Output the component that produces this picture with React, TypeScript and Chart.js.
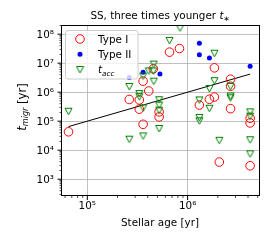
import React, { useEffect, useRef } from 'react';
import { Chart, registerables } from 'chart.js';

Chart.register(...registerables);

// ---- axis ticks ----
const xTickValues = [1e5, 1e6];
const xTickLabels = ['10⁵', '10⁶'];
const yTickValues = [1e3, 1e4, 1e5, 1e6, 1e7, 1e8];
const yTickLabels = ['10³', '10⁴', '10⁵', '10⁶', '10⁷', '10⁸'];
const xMin = 54670;
const xMax = 5.15e6;
const yMin = 285;
const yMax = 2.07e8;

// ---- Type I (red open circles) ----
const typeIAge = [
  6.5e4, 2.62e5, 3.3e5, 3.3e5, 3.6e5, 3.6e5, 4.1e5, 4.55e5, 5.2e5, 5.2e5, 6.6e5, 8.3e5,
  1.31e6, 1.65e6, 1.85e6, 1.85e6, 2.07e6, 2.68e6, 2.68e6, 2.68e6, 4.2e6, 4.2e6, 4.2e6,
];
const typeITime = [
  4.3e4, 5.6e5, 5.4e5, 2.6e5, 7.8e4, 2.4e6, 1.1e6, 6.4e6, 2.1e5, 1.4e5, 2.4e7, 3.2e7,
  3.6e5, 5.7e5, 6.8e5, 6.9e6, 3.9e3, 2.8e6, 1.6e6, 2.7e5, 1.27e5, 8.7e4, 2.9e3,
];

// ---- Type II (blue dots) ----
const typeIIAge = [2.62e5, 3.6e5, 5.3e5, 1.31e6, 1.31e6, 1.65e6, 4.2e6];
const typeIITime = [3.2e6, 4.9e6, 4.2e6, 4.9e7, 1.95e7, 1.5e7, 7.9e6];

// ---- t_acc (green down triangles) ----
const taccAge = [
  6.5e4, 2.62e5, 2.62e5, 3.3e5, 3.3e5, 3.6e5, 3.6e5, 3.6e5, 4.1e5, 4.55e5, 4.6e5, 4.6e5,
  5.2e5, 5.2e5, 5.2e5, 5.2e5, 6.6e5, 8.4e5, 1.31e6, 1.31e6, 1.31e6, 1.65e6, 1.65e6,
  1.85e6, 1.85e6, 2.07e6, 2.68e6, 2.68e6, 2.68e6, 4.2e6, 4.2e6, 4.2e6, 4.2e6,
];
const taccTime = [
  2.2e5, 1.57e6, 2.4e4, 9.0e5, 7.0e5, 3.6e6, 2.9e5, 3.1e4, 5.4e6, 5.4e6, 9.3e6, 2.4e6,
  5.5e5, 3.6e5, 2.4e5, 5.6e4, 6.1e7, 1.64e8, 5.4e5, 1.35e5, 1.03e5, 1.34e6, 2.8e5,
  2.2e7, 2.5e6, 2.2e4, 1.6e6, 7.4e5, 6.4e5, 2.1e5, 1.5e5, 2.3e4, 7.5e3,
];

// ---- fit line ----
const fitAge = [6.5e4, 4.2e6];
const fitTime = [6.5e4, 4.2e6];

const FAM = '"DejaVu Sans"';
const FS = 10.4;
const YLABEL_FS = 11.6;

const pts = (a: number[], b: number[]) => a.map((v, i) => ({ x: v, y: b[i] }));

function makeTriangle(): HTMLCanvasElement {
  const c = document.createElement('canvas');
  c.width = 9;
  c.height = 9;
  const g = c.getContext('2d')!;
  g.strokeStyle = '#008000';
  g.lineWidth = 1;
  g.beginPath();
  g.moveTo(1, 1.5);
  g.lineTo(8, 1.5);
  g.lineTo(4.5, 8);
  g.closePath();
  g.stroke();
  return c;
}

type Part = { text: string; font: string; dy?: number };

function richText(ctx: CanvasRenderingContext2D, parts: Part[], x: number, y: number, align: 'center' | 'left') {
  let total = 0;
  for (const p of parts) {
    ctx.font = p.font;
    total += ctx.measureText(p.text).width;
  }
  let cx = align === 'center' ? x - total / 2 : x;
  ctx.textAlign = 'left';
  ctx.textBaseline = 'alphabetic';
  for (const p of parts) {
    ctx.font = p.font;
    ctx.fillText(p.text, cx, y + (p.dy || 0));
    cx += ctx.measureText(p.text).width;
  }
}

function minorValues(min: number, max: number): number[] {
  const out: number[] = [];
  for (let e = Math.floor(Math.log10(min)); e <= Math.ceil(Math.log10(max)); e++) {
    for (let k = 2; k <= 9; k++) {
      const v = k * Math.pow(10, e);
      if (v >= min && v <= max) out.push(v);
    }
  }
  return out;
}

export default function App() {
  const ref = useRef<HTMLCanvasElement>(null);
  useEffect(() => {
    document.body.style.margin = '0';
    const tri = makeTriangle();
    const f = (s: number, it = false) => `${it ? 'italic ' : ''}${s}px ${FAM}`;

    const overlay = {
      id: 'overlay',
      afterDraw(chart: any) {
        const ctx: CanvasRenderingContext2D = chart.ctx;
        const { left, right, top, bottom } = chart.chartArea;
        const xs = chart.scales.x;
        const ys = chart.scales.y;
        ctx.save();
        // spines
        ctx.strokeStyle = '#000';
        ctx.lineWidth = 1;
        ctx.strokeRect(left + 0.5, top + 0.5, right - left, bottom - top);
        // ticks
        ctx.beginPath();
        for (const v of xTickValues) {
          const px = xs.getPixelForValue(v);
          ctx.moveTo(px, bottom + 1);
          ctx.lineTo(px, bottom + 5);
        }
        for (const v of yTickValues) {
          const py = ys.getPixelForValue(v);
          ctx.moveTo(left + 0.5, py);
          ctx.lineTo(left - 3.5, py);
        }
        ctx.lineWidth = 1;
        ctx.stroke();
        ctx.beginPath();
        for (const v of minorValues(xMin, xMax)) {
          const px = xs.getPixelForValue(v);
          ctx.moveTo(px, bottom + 1);
          ctx.lineTo(px, bottom + 3);
        }
        for (const v of minorValues(yMin, yMax)) {
          const py = ys.getPixelForValue(v);
          ctx.moveTo(left + 0.5, py);
          ctx.lineTo(left - 1.5, py);
        }
        ctx.lineWidth = 0.7;
        ctx.stroke();

        ctx.fillStyle = '#000';
        // title
        richText(ctx, [
          { text: 'SS, three times younger ', font: f(FS) },
          { text: 't', font: f(FS, true) },
          { text: '∗', font: f(FS * 0.7), dy: 2 },
        ], (left + right) / 2, 19, 'center');
        // x label
        richText(ctx, [{ text: 'Stellar age [yr]', font: f(FS) }], (left + right) / 2, 225.5, 'center');
        // y label
        ctx.save();
        ctx.translate(25.5, 107);
        ctx.rotate(-Math.PI / 2);
        richText(ctx, [
          { text: 't', font: f(YLABEL_FS, true) },
          { text: 'migr', font: f(YLABEL_FS * 0.7, true), dy: 2.5 },
          { text: ' [yr]', font: f(YLABEL_FS) },
        ], 0, 0, 'center');
        ctx.restore();

        // legend
        ctx.beginPath();
        (ctx as any).roundRect(65.5, 30.5, 72.5, 48.5, 2.5);
        ctx.fillStyle = 'rgba(255,255,255,0.8)';
        ctx.fill();
        ctx.strokeStyle = '#cccccc';
        ctx.lineWidth = 1;
        ctx.stroke();
        // markers
        ctx.beginPath();
        ctx.arc(80, 39, 4.3, 0, Math.PI * 2);
        ctx.strokeStyle = '#ff0000';
        ctx.lineWidth = 1;
        ctx.stroke();
        ctx.beginPath();
        ctx.arc(80, 54.3, 2.5, 0, Math.PI * 2);
        ctx.fillStyle = '#0000ff';
        ctx.fill();
        ctx.drawImage(tri, 80 - 4.5, 69.5 - 4.5);
        ctx.fillStyle = '#000';
        richText(ctx, [{ text: 'Type I', font: f(FS) }], 98, 42.8, 'left');
        richText(ctx, [{ text: 'Type II', font: f(FS) }], 98, 58.1, 'left');
        richText(ctx, [
          { text: 't', font: f(FS, true) },
          { text: 'acc', font: f(FS * 0.7, true), dy: 2.2 },
        ], 98, 73.4, 'left');
        ctx.restore();
      },
    };

    const chart = new Chart(ref.current!, {
      type: 'scatter',
      data: {
        datasets: [
          {
            label: 'Type I',
            data: pts(typeIAge, typeITime),
            pointStyle: 'circle',
            pointRadius: 4.3,
            borderColor: '#ff0000',
            backgroundColor: 'rgba(0,0,0,0)',
            borderWidth: 1,
            order: 3,
          },
          {
            label: 'Type II',
            data: pts(typeIIAge, typeIITime),
            pointStyle: 'circle',
            pointRadius: 2.5,
            borderColor: '#0000ff',
            backgroundColor: '#0000ff',
            borderWidth: 0,
            order: 2,
          },
          {
            label: 't_acc',
            data: pts(taccAge, taccTime),
            pointStyle: tri as any,
            pointRadius: 4.5,
            borderColor: '#008000',
            backgroundColor: 'rgba(0,0,0,0)',
            order: 1,
          },
          {
            label: 'fit',
            data: pts(fitAge, fitTime),
            showLine: true,
            pointRadius: 0,
            borderColor: '#000',
            borderWidth: 1,
            order: 4,
          } as any,
        ],
      },
      options: {
        animation: false,
        responsive: false,
        events: [],
        layout: { padding: { top: 25, right: 15, bottom: 0, left: 0 } },
        plugins: { legend: { display: false }, tooltip: { enabled: false }, title: { display: false } },
        scales: {
          x: {
            type: 'logarithmic',
            min: xMin,
            max: xMax,
            afterBuildTicks: (s: any) => { s.ticks = xTickValues.map((v) => ({ value: v })); },
            afterFit: (s: any) => { s.height = 45; },
            ticks: {
              autoSkip: false,
              maxRotation: 0,
              minRotation: 0,
              padding: 5,
              color: '#000',
              font: { family: FAM, size: FS },
              callback: (_v: any, i: number) => xTickLabels[i],
            },
            grid: { color: '#b0b0b0', lineWidth: 0.8, drawTicks: false },
            border: { display: false },
          },
          y: {
            type: 'logarithmic',
            min: yMin,
            max: yMax,
            afterBuildTicks: (s: any) => { s.ticks = yTickValues.map((v) => ({ value: v })); },
            afterFit: (s: any) => { s.width = 61; },
            ticks: {
              autoSkip: false,
              padding: 7,
              labelOffset: 1,
              color: '#000',
              font: { family: FAM, size: FS },
              callback: (_v: any, i: number) => yTickLabels[i],
            },
            grid: { color: '#b0b0b0', lineWidth: 0.8, drawTicks: false },
            border: { display: false },
          },
        },
      },
      plugins: [overlay],
    } as any);
    return () => chart.destroy();
  }, []);
  return (
    <div style={{ width: 274, height: 240 }}>
      <canvas ref={ref} width={274} height={240} style={{ display: 'block' }} />
    </div>
  );
}
